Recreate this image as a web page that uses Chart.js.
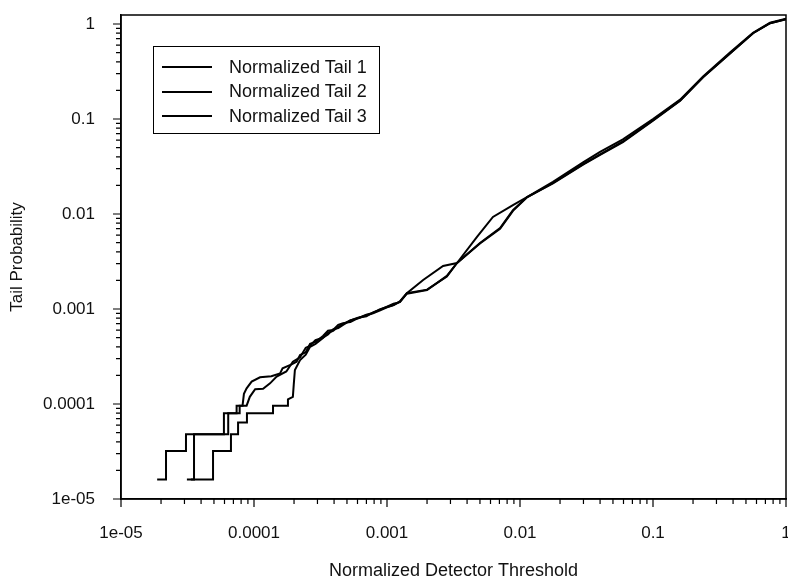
<!DOCTYPE html>
<html>
<head>
<meta charset="utf-8">
<script src="https://cdn.jsdelivr.net/npm/chart.js@4.4.0/dist/chart.umd.min.js"></script>
<style>
    html, body { margin: 0; padding: 0; background: #fff; }
    #wrap { position: relative; width: 788px; height: 580px; }
    #legend {
        position: absolute; left: 153px; top: 46px; width: 227px; height: 88px;
        box-sizing: border-box; border: 1px solid #000; padding-top: 8px;
        font: 18px 'Liberation Sans', Arial, sans-serif; color: #111;
    }
    .row { display: flex; align-items: center; height: 24.5px; }
    .swatch { width: 50px; height: 2px; background: #000; margin-left: 8px; margin-right: 17px; }
</style>
</head>
<body>
<div id="wrap">
    <canvas id="tailChart" width="788" height="580"></canvas>
    <div id="legend"></div>
</div>
<script>
// Axis ticks (decades) and their labels
const tickValues = [1e-5, 1e-4, 1e-3, 1e-2, 1e-1, 1];
const tickLabels = ['1e-05', '0.0001', '0.001', '0.01', '0.1', '1'];
// minor tick multipliers inside each decade
const minorSteps = [2, 3, 4, 5, 6, 7, 8, 9];

const seriesNames = ['Normalized Tail 1', 'Normalized Tail 2', 'Normalized Tail 3'];

// Normalized Tail 1
const tail1X = [1.87e-5, 2.18e-5, 2.18e-5, 3.08e-5, 3.08e-5, 5.94e-5, 5.94e-5, 7.4e-5, 7.4e-5, 8.2e-5,
    8.4e-5, 8.8e-5, 9.6e-5, 1.11e-4, 1.35e-4, 1.57e-4, 1.64e-4, 1.9e-4, 2.09e-4, 2.22e-4,
    2.45e-4, 2.64e-4, 2.9e-4, 3.3e-4, 3.6e-4, 3.93e-4, 4.3e-4, 4.67e-4, 5.3e-4, 6.05e-4,
    7.0e-4, 7.85e-4, 8.8e-4, 1.0e-3, 1.12e-3, 1.25e-3, 1.41e-3, 1.87e-3,
    2.64e-3, 3.36e-3, 5.0e-3, 7.08e-3, 8.85e-3, 1.13e-2, 1.77e-2, 2.98e-2, 4.0e-2, 5.94e-2,
    0.1, 0.16, 0.238, 0.379, 0.565, 0.759, 1];
const tail1Y = [1.6e-5, 1.6e-5, 3.2e-5, 3.2e-5, 4.8e-5, 4.8e-5, 8.0e-5, 8.0e-5, 9.6e-5, 9.6e-5,
    1.28e-4, 1.46e-4, 1.72e-4, 1.91e-4, 1.96e-4, 2.10e-4, 2.38e-4, 2.6e-4, 2.79e-4, 3.28e-4,
    3.5e-4, 4.3e-4, 4.5e-4, 5.2e-4, 5.9e-4, 6.0e-4, 6.8e-4, 7.1e-4, 7.3e-4, 8.0e-4,
    8.6e-4, 9.0e-4, 9.6e-4, 1.04e-3, 1.1e-3, 1.2e-3, 1.47e-3, 2.02e-3,
    2.84e-3, 3.05e-3, 4.95e-3, 7.12e-3, 1.1e-2, 1.51e-2, 2.18e-2, 3.5e-2, 4.5e-2, 6.1e-2,
    0.1, 0.16, 0.28, 0.5, 0.81, 1.03, 1.14];

// Normalized Tail 2
const tail2X = [3.13e-5, 3.54e-5, 3.54e-5, 6.4e-5, 6.4e-5, 7.8e-5, 7.8e-5, 8.8e-5, 9.3e-5, 1.02e-4,
    1.17e-4, 1.32e-4, 1.48e-4, 1.75e-4, 1.96e-4, 2.22e-4, 2.45e-4, 2.64e-4, 2.9e-4, 3.3e-4,
    3.6e-4, 3.93e-4, 4.3e-4, 4.67e-4, 5.3e-4, 6.05e-4, 7.0e-4, 7.85e-4, 8.8e-4, 1.0e-3,
    1.12e-3, 1.25e-3, 1.41e-3, 2.0e-3, 2.82e-3, 3.36e-3, 4.75e-3, 6.26e-3,
    8.85e-3, 1.13e-2, 1.77e-2, 2.98e-2, 4.0e-2, 5.94e-2, 0.1, 0.16, 0.238, 0.379,
    0.565, 0.759, 1];
const tail2Y = [1.6e-5, 1.6e-5, 4.8e-5, 4.8e-5, 8.0e-5, 8.0e-5, 9.6e-5, 9.6e-5, 1.19e-4, 1.43e-4,
    1.45e-4, 1.65e-4, 1.94e-4, 2.2e-4, 2.79e-4, 3.1e-4, 3.9e-4, 4.1e-4, 4.7e-4, 5.0e-4,
    5.4e-4, 6.1e-4, 6.3e-4, 6.8e-4, 7.6e-4, 8.1e-4, 8.4e-4, 9.2e-4, 9.8e-4, 1.06e-3,
    1.14e-3, 1.18e-3, 1.45e-3, 1.58e-3, 2.23e-3, 3.05e-3, 5.73e-3, 9.3e-3,
    1.24e-2, 1.51e-2, 2.1e-2, 3.3e-2, 4.2e-2, 5.7e-2, 0.096, 0.156, 0.275, 0.49,
    0.8, 1.02, 1.12];

// Normalized Tail 3
const tail3X = [3.35e-5, 4.92e-5, 4.92e-5, 6.71e-5, 6.71e-5, 7.59e-5, 7.59e-5, 8.85e-5, 8.85e-5, 1.39e-4,
    1.39e-4, 1.80e-4, 1.80e-4, 1.96e-4, 1.99e-4, 2.03e-4, 2.22e-4, 2.45e-4, 2.64e-4, 2.9e-4,
    3.3e-4, 3.6e-4, 3.93e-4, 4.3e-4, 4.67e-4, 5.3e-4, 6.05e-4, 7.0e-4, 7.85e-4, 8.8e-4,
    1.0e-3, 1.12e-3, 1.25e-3, 1.41e-3, 2.0e-3, 2.82e-3, 3.36e-3, 5.0e-3,
    7.08e-3, 8.85e-3, 1.13e-2, 1.77e-2, 2.98e-2, 4.0e-2, 5.94e-2, 0.1, 0.16, 0.238,
    0.379, 0.565, 0.759, 1];
const tail3Y = [1.6e-5, 1.6e-5, 3.2e-5, 3.2e-5, 4.8e-5, 4.8e-5, 6.4e-5, 6.4e-5, 8.0e-5, 8.0e-5,
    9.6e-5, 9.6e-5, 1.12e-4, 1.19e-4, 1.6e-4, 2.28e-4, 2.9e-4, 3.3e-4, 4.0e-4, 4.3e-4,
    4.95e-4, 5.6e-4, 5.9e-4, 6.5e-4, 6.95e-4, 7.6e-4, 8.0e-4, 8.7e-4, 9.1e-4, 9.9e-4,
    1.05e-3, 1.1e-3, 1.19e-3, 1.47e-3, 1.6e-3, 2.2e-3, 3.05e-3, 4.9e-3,
    7.0e-3, 1.08e-2, 1.5e-2, 2.12e-2, 3.35e-2, 4.25e-2, 5.8e-2, 0.097, 0.157, 0.276,
    0.49, 0.8, 1.02, 1.12];

const FONT = "'Liberation Sans', Arial, sans-serif";

function toPoints(xs, ys) {
    return xs.map((x, i) => ({ x: x, y: ys[i] }));
}

// Only label the decades
function decadeLabel(value) {
    const i = tickValues.findIndex(t => Math.abs(Math.log10(value) - Math.log10(t)) < 1e-6);
    return i >= 0 ? tickLabels[i] : '';
}

// Frame around plot + outside tick marks (long at decades, short in between)
const frameAndTicks = {
    id: 'frameAndTicks',
    afterDraw(chart) {
        const { ctx, chartArea: a, scales } = chart;
        ctx.save();
        ctx.strokeStyle = '#000';
        ctx.lineWidth = 1.5;
        ctx.strokeRect(a.left, a.top, a.right - a.left, a.bottom - a.top);
        ctx.lineWidth = 1.2;
        ctx.beginPath();
        tickValues.forEach((v, d) => {
            const px = scales.x.getPixelForValue(v);
            ctx.moveTo(px, a.bottom);
            ctx.lineTo(px, a.bottom + 8);
            const py = scales.y.getPixelForValue(v);
            ctx.moveTo(a.left, py);
            ctx.lineTo(a.left - 8, py);
            if (d === tickValues.length - 1) return;
            minorSteps.forEach(k => {
                const mx = scales.x.getPixelForValue(v * k);
                ctx.moveTo(mx, a.bottom);
                ctx.lineTo(mx, a.bottom + 5);
                const my = scales.y.getPixelForValue(v * k);
                ctx.moveTo(a.left, my);
                ctx.lineTo(a.left - 5, my);
            });
        });
        ctx.stroke();
        ctx.restore();
    }
};

const tails = [[tail1X, tail1Y], [tail2X, tail2Y], [tail3X, tail3Y]];

const tailChart = new Chart(document.getElementById('tailChart'), {
    type: 'line',
    data: {
        datasets: tails.map((t, i) => ({
            label: seriesNames[i],
            data: toPoints(t[0], t[1]),
            borderColor: '#000',
            borderWidth: 2,
            pointRadius: 0,
            tension: 0,
            fill: false
        }))
    },
    options: {
        responsive: false,
        animation: false,
        layout: { padding: { top: 15, right: 2, left: 0, bottom: 0 } },
        plugins: {
            legend: { display: false },
            tooltip: { enabled: false }
        },
        scales: {
            x: {
                type: 'logarithmic',
                min: 1e-5,
                max: 1,
                border: { display: true, color: '#000', width: 1.5 },
                grid: { display: false },
                ticks: {
                    autoSkip: false,
                    maxRotation: 0,
                    padding: 16,
                    color: '#111',
                    font: { family: FONT, size: 17 },
                    callback: decadeLabel
                },
                title: {
                    display: true,
                    text: 'Normalized Detector Threshold',
                    color: '#111',
                    font: { family: FONT, size: 18, lineHeight: 1 },
                    padding: 0
                },
                afterFit(scale) {
                    scale.height = 81;
                    scale.paddingLeft = 0;
                    scale.paddingRight = 0;
                }
            },
            y: {
                type: 'logarithmic',
                min: 1e-5,
                max: 1.244,
                border: { display: true, color: '#000', width: 1.5 },
                grid: { display: false },
                ticks: {
                    autoSkip: false,
                    padding: 18,
                    color: '#111',
                    font: { family: FONT, size: 17 },
                    callback: decadeLabel
                },
                title: {
                    display: true,
                    text: 'Tail Probability',
                    color: '#111',
                    font: { family: FONT, size: 17, lineHeight: 1 },
                    padding: { top: 9, bottom: 0 }
                },
                afterFit(scale) {
                    scale.width = 121;
                    scale.paddingTop = 0;
                    scale.paddingBottom = 0;
                }
            }
        }
    },
    plugins: [frameAndTicks]
});

// Boxed legend inside the plot
document.getElementById('legend').innerHTML = tailChart.data.datasets.map(ds => `
    <div class="row"><span class="swatch"></span><span>${ds.label}</span></div>
`).join('');
</script>
</body>
</html>
